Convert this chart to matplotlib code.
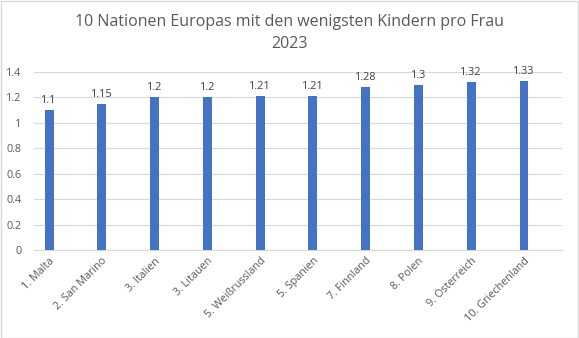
import matplotlib
matplotlib.use("Agg")
import matplotlib.pyplot as plt
from matplotlib.patches import Rectangle

categories = ["1. Malta", "2. San Marino", "3. Italien", "3. Litauen", "5. Weißrussland",
              "5. Spanien", "7. Finnland", "8. Polen", "9. Österreich", "10. Griechenland"]
values = [1.1, 1.15, 1.2, 1.2, 1.21, 1.21, 1.28, 1.3, 1.32, 1.33]
value_labels = ["1.1", "1.15", "1.2", "1.2", "1.21", "1.21", "1.28", "1.3", "1.32", "1.33"]
yticks = [0, 0.2, 0.4, 0.6, 0.8, 1, 1.2, 1.4]
ytick_labels = ["0", "0.2", "0.4", "0.6", "0.8", "1", "1.2", "1.4"]
title = "10 Nationen Europas mit den wenigsten Kindern pro Frau\n2023"

plt.rcParams['font.family'] = ['Open Sans', 'DejaVu Sans']
txt = "#595959"

fig = plt.figure(figsize=(5.79, 3.38), dpi=100)
fig.patches.append(Rectangle((0.5/579, 0.5/338), 1 - 1.5/579, 1 - 1.5/338, transform=fig.transFigure,
                             fill=False, edgecolor="#d9d9d9", linewidth=1))
ax = fig.add_axes([34/579, 1 - 250/338, (562 - 34)/579, (250 - 72)/338])

x = list(range(len(categories)))
bars = ax.bar(x, values, width=0.17, color="#4472c4", zorder=3)
for xi, v, lab in zip(x, values, value_labels):
    ax.annotate(lab, (xi, v), xytext=(0, 3), textcoords="offset points",
                ha="center", va="bottom", fontsize=7.8, color="#404040")

ax.set_xlim(-0.285, len(categories) - 1 + 0.72)
ax.set_ylim(0, 1.4)
ax.set_yticks(yticks)
ax.set_yticklabels(ytick_labels, fontsize=7.8, color=txt)
ax.set_xticks(x)
ax.set_xticklabels(categories, rotation=45, ha="right", rotation_mode="anchor",
                   fontsize=7.8, color=txt)
ax.tick_params(axis="both", length=0, pad=4)
ax.tick_params(axis="y", pad=9)
ax.grid(axis="y", color="#d9d9d9", linewidth=0.8, zorder=0)
for s in ["top", "right", "left"]:
    ax.spines[s].set_visible(False)
ax.spines["bottom"].set_color("#d9d9d9")
ax.spines["bottom"].set_linewidth(0.8)

fig.text(0.5, 1 - 33/338, title, ha="center", va="center", fontsize=11.5,
         color=txt, linespacing=1.45)

fig.savefig("out.png", dpi=100)
